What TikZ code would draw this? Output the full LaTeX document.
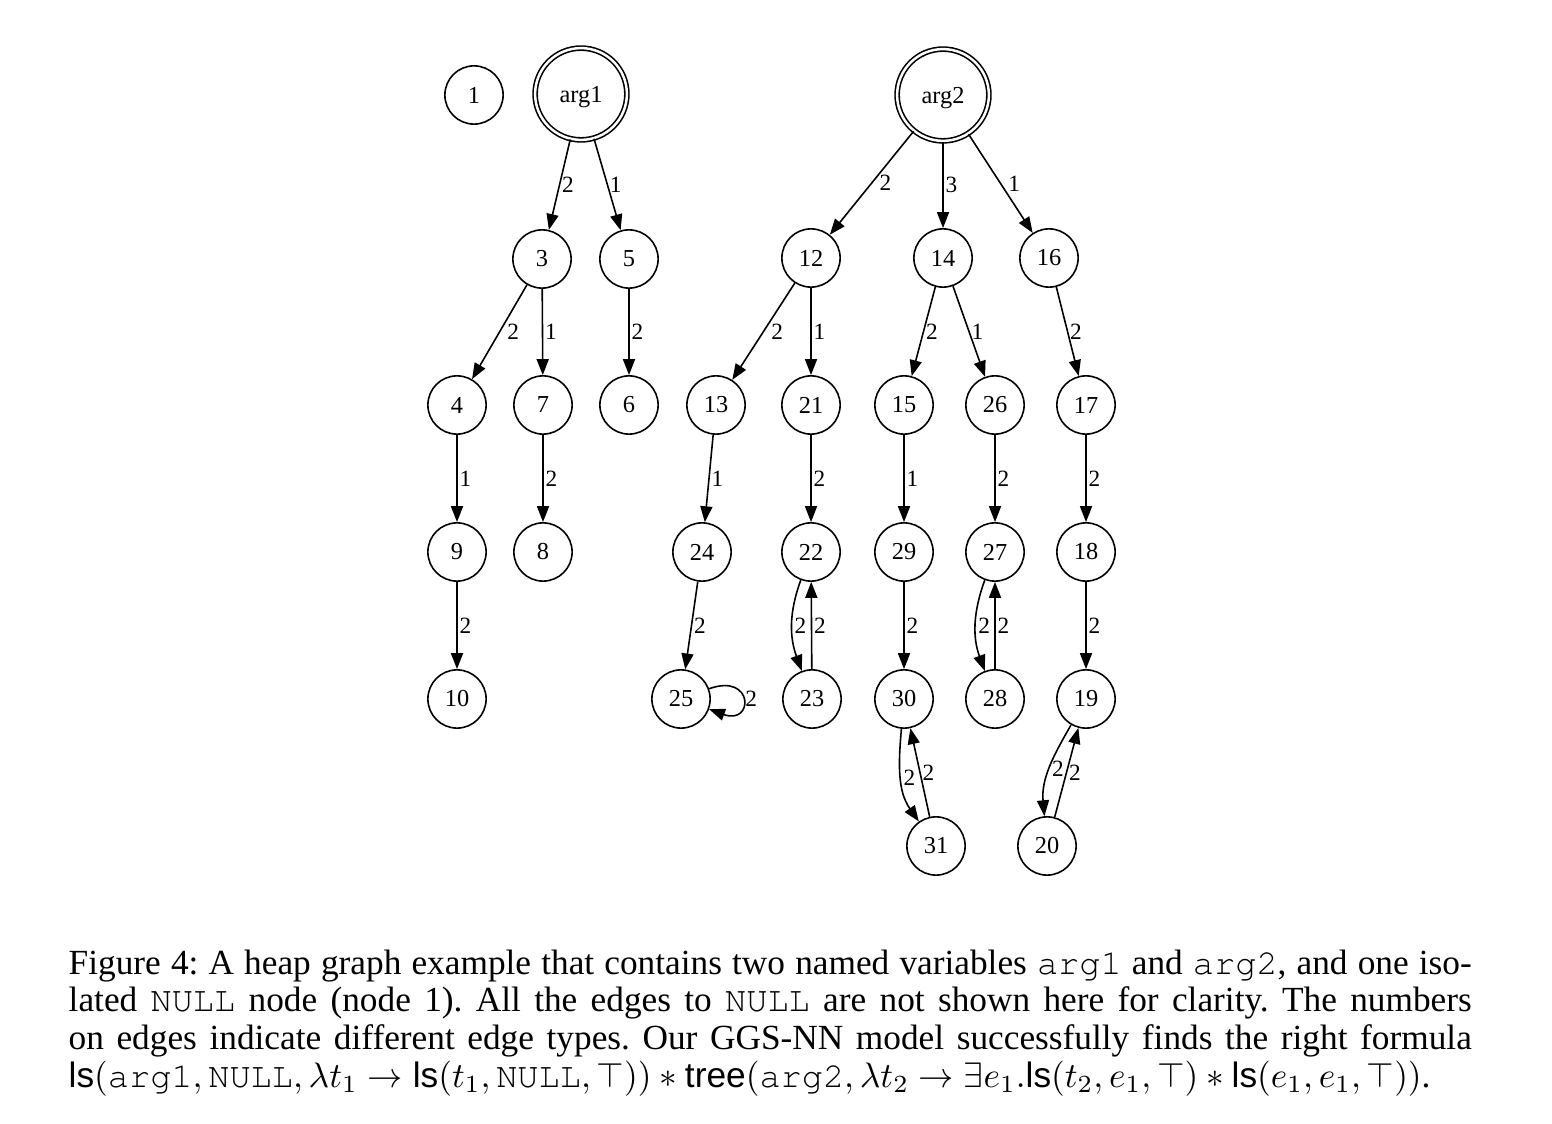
\documentclass[tikz,border=0pt]{standalone}
\usepackage[no-math]{fontspec}
\setmainfont{Liberation Serif}
\setsansfont{Liberation Sans}
\setmonofont{TeX Gyre Cursor}
\usetikzlibrary{arrows.meta}

\begin{document}
\begin{tikzpicture}[x=0.2833pt,y=-0.2833pt,
  vert/.style={circle,draw,line width=0.45pt,minimum size=16.5pt,inner sep=0pt,font=\fontsize{6.9}{7}\selectfont},
  var/.style={vert,minimum size=26pt,double,double distance=0.7pt,text depth=0pt},
  link/.style={-{Triangle[length=4.5pt,width=3.4pt]},line width=0.45pt},
  lbl/.style={anchor=west,inner sep=0.5pt,font=\fontsize{6.6}{7}\selectfont},
  lblfar/.style={lbl,xshift=1.5pt}]
  \useasboundingbox (0,0) rectangle (1552,1124);
  % variables and the NULL node
  \node[vert] (v1) at (474,95) {1};
  \node[var] (a1) at (581,94) {arg1};
  \node[var] (a2) at (943,95) {arg2};
  % row 2
  \node[vert] (v3) at (542,259) {3};
  \node[vert] (v5) at (629,259) {5};
  \node[vert] (v12) at (811,258) {12};
  \node[vert] (v14) at (943,258) {14};
  \node[vert] (v16) at (1049,258) {16};
  % row 3
  \node[vert] (v4) at (457,405) {4};
  \node[vert] (v7) at (543,405) {7};
  \node[vert] (v6) at (629,405) {6};
  \node[vert] (v13) at (716,405) {13};
  \node[vert] (v21) at (811,405) {21};
  \node[vert] (v15) at (904,405) {15};
  \node[vert] (v26) at (995,405) {26};
  \node[vert] (v17) at (1086,405) {17};
  % row 4
  \node[vert] (v9) at (457,552) {9};
  \node[vert] (v8) at (543,552) {8};
  \node[vert] (v24) at (702,552) {24};
  \node[vert] (v22) at (811,552) {22};
  \node[vert] (v29) at (904,552) {29};
  \node[vert] (v27) at (995,552) {27};
  \node[vert] (v18) at (1086,552) {18};
  % row 5
  \node[vert] (v10) at (457,699) {10};
  \node[vert] (v25) at (681,699) {25};
  \node[vert] (v23) at (812,699) {23};
  \node[vert] (v30) at (904,699) {30};
  \node[vert] (v28) at (995,699) {28};
  \node[vert] (v19) at (1086,699) {19};
  % row 6
  \node[vert] (v31) at (936,846) {31};
  \node[vert] (v20) at (1047,846) {20};

  % edges from arg1
  \draw[link] (a1) -- node[lbl] {2} (v3);
  \draw[link] (a1) -- node[lbl] {1} (v5);
  \draw[link] (v3) -- node[lblfar] {2} (v4);
  \draw[link] (v3) -- node[lbl] {1} (v7);
  \draw[link] (v5) -- node[lbl] {2} (v6);
  \draw[link] (v4) -- node[lbl] {1} (v9);
  \draw[link] (v7) -- node[lbl] {2} (v8);
  \draw[link] (v9) -- node[lbl] {2} (v10);
  % edges from arg2
  \draw[link] (a2) -- node[lblfar] {2} (v12);
  \draw[link] (a2) -- node[lbl] {3} (v14);
  \draw[link] (a2) -- node[lblfar] {1} (v16);
  \draw[link] (v12) -- node[lblfar] {2} (v13);
  \draw[link] (v12) -- node[lbl] {1} (v21);
  \draw[link] (v14) -- node[lbl] {2} (v15);
  \draw[link] (v14) -- node[lbl] {1} (v26);
  \draw[link] (v16) -- node[lbl] {2} (v17);
  \draw[link] (v13) -- node[lbl] {1} (v24);
  \draw[link] (v21) -- node[lbl] {2} (v22);
  \draw[link] (v15) -- node[lbl] {1} (v29);
  \draw[link] (v26) -- node[lbl] {2} (v27);
  \draw[link] (v17) -- node[lbl] {2} (v18);
  \draw[link] (v24) -- node[lbl] {2} (v25);
  \draw[link] (v25) to[out=20,in=-20,looseness=6] node[lbl] {2} (v25);
  \draw[link] (v22) to[out=-110,in=110] node[lbl] {2} (v23);
  \draw[link] (v23) -- node[lbl] {2} (v22);
  \draw[link] (v29) -- node[lbl] {2} (v30);
  \draw[link] (v27) to[out=-110,in=110] node[lbl] {2} (v28);
  \draw[link] (v28) -- node[lbl] {2} (v27);
  \draw[link] (v18) -- node[lbl] {2} (v19);
  \draw[link] (v30) to[out=-95,in=125] node[lbl] {2} (v31);
  \draw[link] (v31) -- node[lbl] {2} (v30);
  \draw[link] (v19) to[out=-120,in=95] node[lbl] {2} (v20);
  \draw[link] (v20) -- node[lbl] {2} (v19);

  % caption
  \node[anchor=north west,inner sep=0pt,text width=397.5pt,align=justify,
    font=\fontsize{10}{10.7}\selectfont\frenchspacing] (cap) at (68,949)
    {Figure 4: A heap graph example that contains two named variables \texttt{arg1} and \texttt{arg2}, and one iso-\linebreak
    lated \texttt{NULL} node (node 1). All the edges to \texttt{NULL} are not shown here for clarity. The numbers\linebreak
    on edges indicate different edge types. Our GGS-NN model successfully finds the right formula\linebreak
    $\textsf{ls}(\texttt{arg1},\texttt{NULL},\lambda t_1\rightarrow\textsf{ls}(t_1,\texttt{NULL},\top))\ast\textsf{tree}(\texttt{arg2},\lambda t_2\rightarrow\exists e_1.\textsf{ls}(t_2,e_1,\top)\ast\textsf{ls}(e_1,e_1,\top))$.};
\end{tikzpicture}
\end{document}
